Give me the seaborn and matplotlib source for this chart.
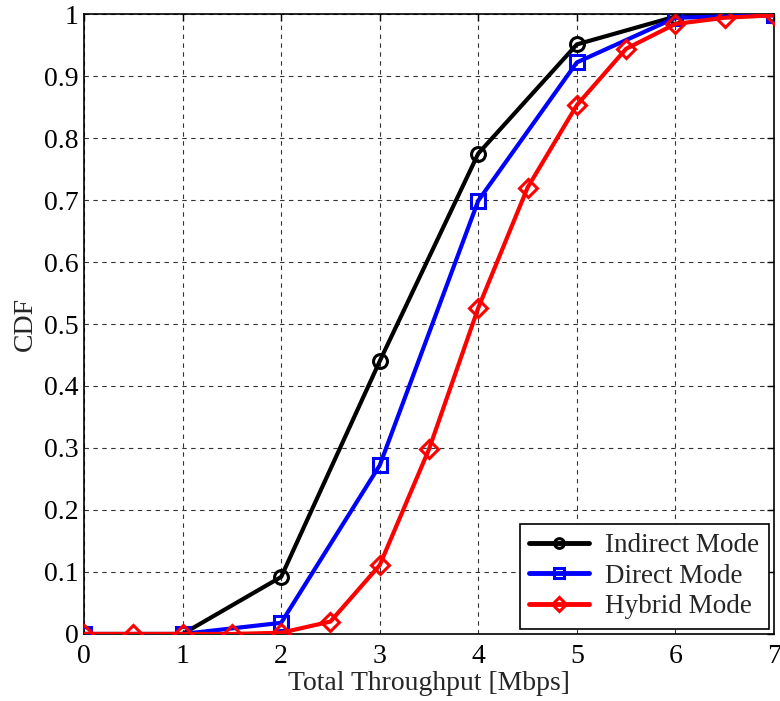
import matplotlib
matplotlib.use("Agg")
import matplotlib.pyplot as plt
import seaborn as sns
import pandas as pd

x_int = [0, 1, 2, 3, 4, 5, 6, 7]
indirect = [0.0, 0.0, 0.092, 0.44, 0.775, 0.951, 0.996, 1.0]
direct = [0.0, 0.0, 0.018, 0.272, 0.699, 0.922, 0.994, 0.998]
x_half = [0, 0.5, 1, 1.5, 2, 2.5, 3, 3.5, 4, 4.5, 5, 5.5, 6, 6.5, 7]
hybrid = [0.0, 0.0, 0.0, 0.0, 0.002, 0.02, 0.111, 0.298, 0.526, 0.72, 0.853, 0.944, 0.984, 0.994, 0.998]
labels = ["Indirect Mode", "Direct Mode", "Hybrid Mode"]
xticks = [0, 1, 2, 3, 4, 5, 6, 7]
yticks = [0, 0.1, 0.2, 0.3, 0.4, 0.5, 0.6, 0.7, 0.8, 0.9, 1]
ytick_labels = ["0", "0.1", "0.2", "0.3", "0.4", "0.5", "0.6", "0.7", "0.8", "0.9", "1"]

sns.set_style("white")
plt.rcParams['font.family'] = ['Liberation Serif', 'DejaVu Serif']

fig = plt.figure(figsize=(7.8, 7.01), dpi=100)
ax = fig.add_axes([0.1077, 0.0956, 0.8846, 0.8844])

styles = [
    (x_int, indirect, "black", "o", 10),
    (x_int, direct, "blue", "s", 10),
    (x_half, hybrid, "red", "D", 9),
]
for (xs, ys, c, m, ms), lab in zip(styles, labels):
    df = pd.DataFrame({"x": xs, "y": ys})
    sns.lineplot(data=df, x="x", y="y", ax=ax, color=c, linewidth=3.0,
                 marker=m, markersize=ms,
                 markerfacecolor="none", markeredgecolor=c, markeredgewidth=2.2,
                 label=lab, zorder=3)

ax.set_xlim(0, 7)
ax.set_ylim(0, 1)
ax.set_xticks(xticks)
ax.set_xticklabels([str(t) for t in xticks])
ax.set_yticks(yticks)
ax.set_yticklabels(ytick_labels)
ax.tick_params(direction="in", length=5, width=1, labelsize=20, colors="black",
               top=True, right=True)
ax.tick_params(axis="x", pad=7)
ax.tick_params(axis="y", pad=4)
ax.grid(True, color="black", linestyle=(0, (4, 4)), linewidth=0.8, alpha=0.8)
for s in ax.spines.values():
    s.set_color("black")
    s.set_linewidth(1.2)
ax.set_xlabel("Total Throughput [Mbps]", fontsize=20, labelpad=2)
ax.set_ylabel("CDF", fontsize=20, labelpad=4)

leg = ax.legend(loc="lower right", fontsize=19.5, frameon=True, fancybox=False,
                edgecolor="black", framealpha=1, borderpad=0.35, handlelength=2.2,
                labelspacing=0.2, borderaxespad=0.2, handletextpad=0.6)
leg.get_frame().set_linewidth(1.2)
for ln in leg.get_lines():
    ln.set_markersize(7)
    ln.set_linewidth(3.5)

fig.savefig("out.png", dpi=100)
